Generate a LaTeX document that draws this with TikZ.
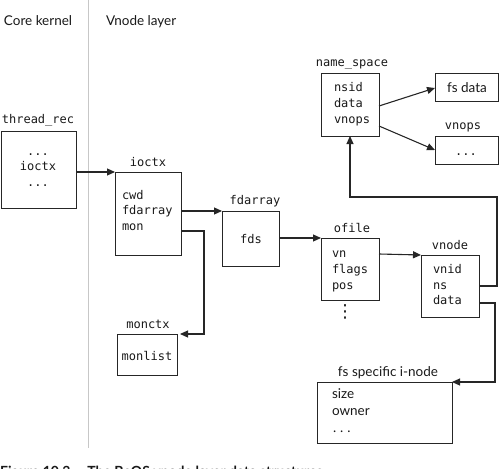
\documentclass[tikz,border=0pt]{standalone}
\usepackage{fontspec}
\setmainfont{Lato}
\newfontfamily\monof{DejaVu Sans Mono}
\newfontfamily\symf{DejaVu Sans}
\usetikzlibrary{arrows.meta,calc}
\begin{document}
\begin{tikzpicture}[x=1pt,y=-1pt,
  box/.style={draw=black!85, line width=1pt, anchor=north west, inner sep=0pt, outer sep=0pt},
  mono/.style={font=\monof\fontsize{12}{14}\selectfont, text=black!90, inner sep=0pt, outer sep=0pt},
  sans/.style={font=\fontsize{13.5}{16}\selectfont, text=black!90, inner sep=0pt, outer sep=0pt},
  conn/.style={draw=black!85, line width=1.1pt, -{Triangle[length=8pt,width=7pt]}},
]
\useasboundingbox (0,0) rectangle (500,468);
% separator
\draw[black!22, line width=0.8pt] (88,0) -- (88,448);
% headers
\node[sans, anchor=base west] (hcore) at (4,26) {Core kernel};
\node[sans, anchor=base west] (hvnode) at (106,26) {Vnode layer};

% thread_rec
\node[box, minimum width=75pt, minimum height=77pt] (thr) at (1,131) {};
\node[mono, anchor=base] (thrlab) at (38,123) {thread\_rec};
\node[mono, anchor=base] (thrd1) at (38,155.5) {...};
\node[mono, anchor=base] (thrio) at (38,170) {ioctx};
\node[mono, anchor=base] (thrd2) at (38,186) {...};

% ioctx
\node[box, minimum width=66pt, minimum height=83pt] (ioctx) at (115,172) {};
\node[mono, anchor=base] (ioctxlab) at (148,166) {ioctx};
\node[mono, anchor=base west] (iocwd) at (122,199) {cwd};
\node[mono, anchor=base west] (iofd) at (122,214) {fdarray};
\node[mono, anchor=base west] (iomon) at (122,230) {mon};

% fdarray
\node[box, minimum width=57pt, minimum height=55pt] (fdarray) at (222,211) {};
\node[mono, anchor=base] (fdlab) at (255,204) {fdarray};
\node[mono, anchor=base] (fds) at (251,243) {fds};

% monctx
\node[box, minimum width=60pt, minimum height=41pt] (monctx) at (117,334) {};
\node[mono, anchor=base] (monlab) at (148,328) {monctx};
\node[mono, anchor=base] (monlist) at (147,360) {monlist};

% name_space
\node[box, minimum width=58pt, minimum height=62pt] (ns) at (321,74) {};
\node[mono, anchor=base] (nslab) at (352,67) {name\_space};
\node[mono, anchor=base west] (nsid) at (334,92) {nsid};
\node[mono, anchor=base west] (nsdata) at (334,108) {data};
\node[mono, anchor=base west] (nsvnops) at (334,124) {vnops};

% fs data
\node[box, minimum width=63pt, minimum height=28pt] (fsdata) at (435,74) {};
\node[sans, anchor=base] (fsdatatxt) at (467,93) {fs data};

% vnops
\node[box, minimum width=63pt, minimum height=28pt] (vnopsbox) at (435,136) {};
\node[mono, anchor=base] (vnopslab) at (463,129) {vnops};
\node[mono, anchor=base] (vnopsdots) at (466,155) {...};

% ofile
\node[box, minimum width=58pt, minimum height=62pt] (ofile) at (321,238) {};
\node[mono, anchor=base] (oflab) at (352,232) {ofile};
\node[mono, anchor=base west] (ofvn) at (332,257) {vn};
\node[mono, anchor=base west] (offlags) at (332,273) {flags};
\node[mono, anchor=base west] (ofpos) at (332,289) {pos};
\node[font=\symf\fontsize{18}{18}\selectfont, text=black!90, inner sep=0pt] (ofdots) at (345,312) {⋮};

% vnode
\node[box, minimum width=58pt, minimum height=62pt] (vnode) at (421,255) {};
\node[mono, anchor=base] (vnlab) at (450,249) {vnode};
\node[mono, anchor=base west] (vnid) at (433,273) {vnid};
\node[mono, anchor=base west] (vnns) at (433,289) {ns};
\node[mono, anchor=base west] (vndata) at (433,304) {data};

% fs specific i-node
\node[box, minimum width=135pt, minimum height=61pt] (inode) at (317,382) {};
\node[sans, anchor=base] (inlab) at (388,376) {fs specific i-node};
\node[sans, anchor=base west] (insize) at (332,398) {size};
\node[sans, anchor=base west] (inowner) at (332,415) {owner};
\node[sans, anchor=base west] (indots) at (333,432) {.\hspace{4pt}.\hspace{4pt}.};

% connectors
\draw[conn] (thr.east |- ioctx.north west) -- (ioctx.north west);
\draw[conn] (ioctx.east |- fdarray.north west) -- (fdarray.north west);
\draw[conn] ($(ioctx.east |- iomon.base)+(0,1)$) -- ++(23,0) |- ($(monctx.north east)+(3,0)$);
\draw[conn] (fdarray.east |- ofile.north west) -- (ofile.north west);
\draw[conn] ($(ofile.east |- vnode.north west)+(0,-1)$) -- (vnode.north west);
\draw[conn] ($(vnode.east |- vnns.base)+(0,-3)$) -- ++(18,0) -- ++(0,-89) -| (ns.south);
\draw[conn] ($(vnode.east |- vndata.base)+(0,-1)$) -- ++(16,0) |- (inode.north east);
\draw[conn] ($(ns.east |- nsdata.base)+(0,-2)$) -- (fsdata.west);
\draw[conn] ($(ns.east |- nsvnops.base)+(0,2)$) -- (vnopsbox.west);

% caption (cut off at the bottom edge)
\node[font=\bfseries\fontsize{14}{16}\selectfont, text=black!90, anchor=base west, inner sep=0pt] (cap) at (0,476) {Figure 10.3\hspace{1.2em}The BeOS vnode layer data structures};
\end{tikzpicture}
\end{document}
